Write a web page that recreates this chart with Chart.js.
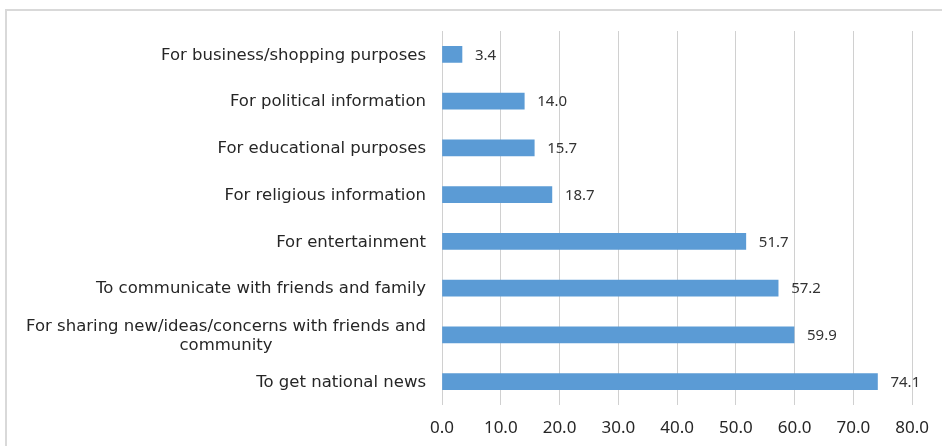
<!DOCTYPE html>
<html>
<head>
<meta charset="utf-8">
<script src="https://cdn.jsdelivr.net/npm/chart.js@4/dist/chart.umd.min.js"></script>
<style>
  html, body { margin: 0; padding: 0; background: #fff; overflow: hidden; }
  #wrap { position: relative; width: 942px; height: 446px; }
  #frame { position: absolute; left: 5px; top: 9px; width: 1000px; height: 1000px; border: 2px solid #d9d9d9; box-sizing: border-box; }
  canvas { position: absolute; left: 0; top: 0; }
</style>
</head>
<body>
<div id="wrap">
  <div id="frame"></div>
  <canvas id="usesChart" width="942" height="446"></canvas>
</div>
<script>
// reasons for using social media (%)
const categories = [
  'For business/shopping purposes',
  'For political information',
  'For educational purposes',
  'For religious information',
  'For entertainment',
  'To communicate with friends and family',
  ['For sharing new/ideas/concerns with friends and', 'community'],
  'To get national news'
];
const values = [3.4, 14.0, 15.7, 18.7, 51.7, 57.2, 59.9, 74.1];
const xTicks = [0, 10, 20, 30, 40, 50, 60, 70, 80];

const CAT_FONT = "'DejaVu Sans', sans-serif";
const NUM_FONT = "'Noto Sans', sans-serif";
const TEXT = '#262626';

// value labels at the end of each bar
const barValues = {
  id: 'barValues',
  afterDatasetsDraw(chart) {
    const ctx = chart.ctx;
    const meta = chart.getDatasetMeta(0);
    ctx.save();
    ctx.font = '15px ' + NUM_FONT;
    ctx.fillStyle = '#333';
    ctx.textAlign = 'left';
    ctx.textBaseline = 'middle';
    meta.data.forEach((bar, i) => {
      ctx.fillText(values[i].toFixed(1), bar.x + 13, bar.y + 1);
    });
    ctx.restore();
  }
};

// category labels: right aligned block, wrapped lines centred inside it
const catLabels = {
  id: 'catLabels',
  afterDraw(chart) {
    const ctx = chart.ctx;
    const y = chart.scales.y;
    const right = y.right - 16;
    const lh = 19;
    ctx.save();
    ctx.font = '16.5px ' + CAT_FONT;
    ctx.fillStyle = TEXT;
    ctx.textAlign = 'center';
    ctx.textBaseline = 'middle';
    categories.forEach((lab, i) => {
      const lines = Array.isArray(lab) ? lab : [lab];
      const w = Math.max(...lines.map(l => ctx.measureText(l).width));
      const cy = y.getPixelForTick(i);
      lines.forEach((l, k) => {
        ctx.fillText(l, right - w / 2, cy + (k - (lines.length - 1) / 2) * lh + 1);
      });
    });
    ctx.restore();
  }
};

new Chart(document.getElementById('usesChart'), {
  type: 'bar',
  data: {
    labels: categories,
    datasets: [{
      data: values,
      backgroundColor: '#5b9bd5',
      barThickness: 16
    }]
  },
  options: {
    indexAxis: 'y',
    responsive: false,
    animation: false,
    layout: { padding: { left: 0, right: 29, top: 31, bottom: 0 } },
    plugins: { legend: { display: false }, tooltip: { enabled: false } },
    scales: {
      x: {
        min: 0, max: 80,
        afterBuildTicks: s => { s.ticks = xTicks.map(v => ({ value: v })); },
        afterFit: s => { s.height = 41; },
        grid: { color: '#d0d0d0', lineWidth: 1, drawTicks: false },
        border: { display: false },
        ticks: {
          padding: 13,
          color: TEXT,
          font: { family: NUM_FONT, size: 17 },
          callback: v => Number(v).toFixed(1)
        }
      },
      y: {
        afterFit: s => { s.width = 442; },
        grid: { display: false, drawTicks: false },
        border: { display: false },
        ticks: { color: 'rgba(0,0,0,0)', padding: 16, font: { family: CAT_FONT, size: 16 } }
      }
    }
  },
  plugins: [barValues, catLabels]
});
</script>
</body>
</html>
